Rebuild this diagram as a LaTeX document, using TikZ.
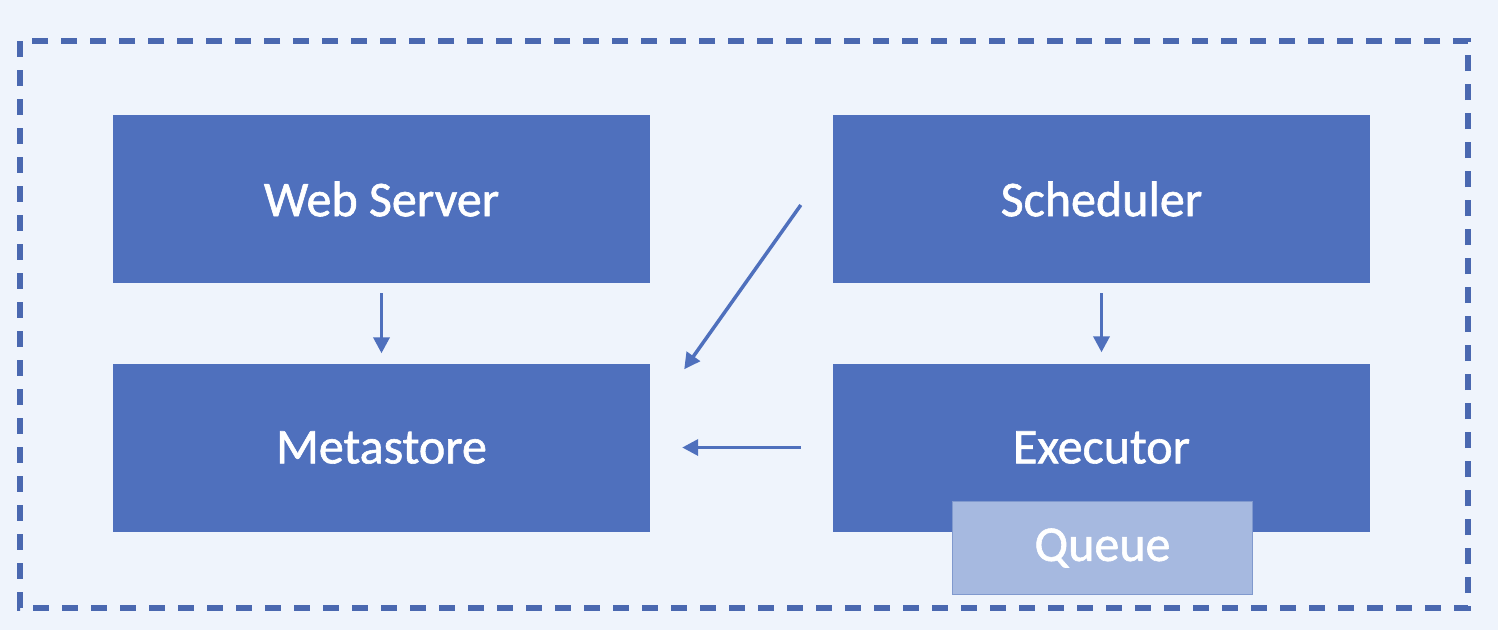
\documentclass[tikz,border=0pt]{standalone}
\usepackage{fontspec}
\setmainfont{Carlito}
\newfontfamily\labelfont[FakeBold=1.2]{Carlito}
\usetikzlibrary{arrows.meta}
\definecolor{bg}{HTML}{EFF4FC}
\definecolor{boxblue}{HTML}{4F70BD}
\definecolor{qfill}{HTML}{A6B9E0}
\definecolor{qline}{HTML}{8099CE}
\definecolor{frameblue}{HTML}{4A68B0}
\tikzset{
  blockbox/.style={fill=boxblue, draw=none, minimum width=537pt, minimum height=168pt, inner sep=0pt, text=white, font=\labelfont\fontsize{50}{60}\selectfont},
  queuebox/.style={fill=qfill, draw=qline, line width=1.2pt, minimum width=300pt, minimum height=93pt, inner sep=0pt, text=white, font=\labelfont\fontsize{50}{60}\selectfont},
  arr/.style={draw=boxblue, line width=3.5pt, -{Triangle[length=16pt,width=16pt]}},
  framestyle/.style={draw=frameblue, line width=5.5pt, dash pattern=on 16pt off 13pt}
}
\begin{document}
\begin{tikzpicture}[x=1pt,y=-1pt]
\fill[bg] (0,0) rectangle (1498,630);
\useasboundingbox (0,0) rectangle (1498,630);
\draw[framestyle] (20,41) rectangle (1468,608);
\node[blockbox] (web) at (381.5,199) {Web Server};
\node[blockbox] (sched) at (1101.5,199) {Scheduler};
\node[blockbox] (meta) at (381.5,447.5) {Metastore};
\node[blockbox] (exec) at (1101.5,447.5) {Executor};
\node[queuebox] (queue) at (1102.5,548) {Queue};
\draw[arr] ([yshift=-10pt]web.south) -- ([yshift=10pt]meta.north);
\draw[arr] ([yshift=-10pt]sched.south) -- ([yshift=11pt]exec.north);
\draw[arr] ([xshift=-32pt,yshift=-6pt]sched.west) -- ([xshift=34pt,yshift=-6pt]meta.north east);
\draw[arr] ([xshift=-32pt]exec.west) -- ([xshift=32pt]meta.east);
\end{tikzpicture}
\end{document}
